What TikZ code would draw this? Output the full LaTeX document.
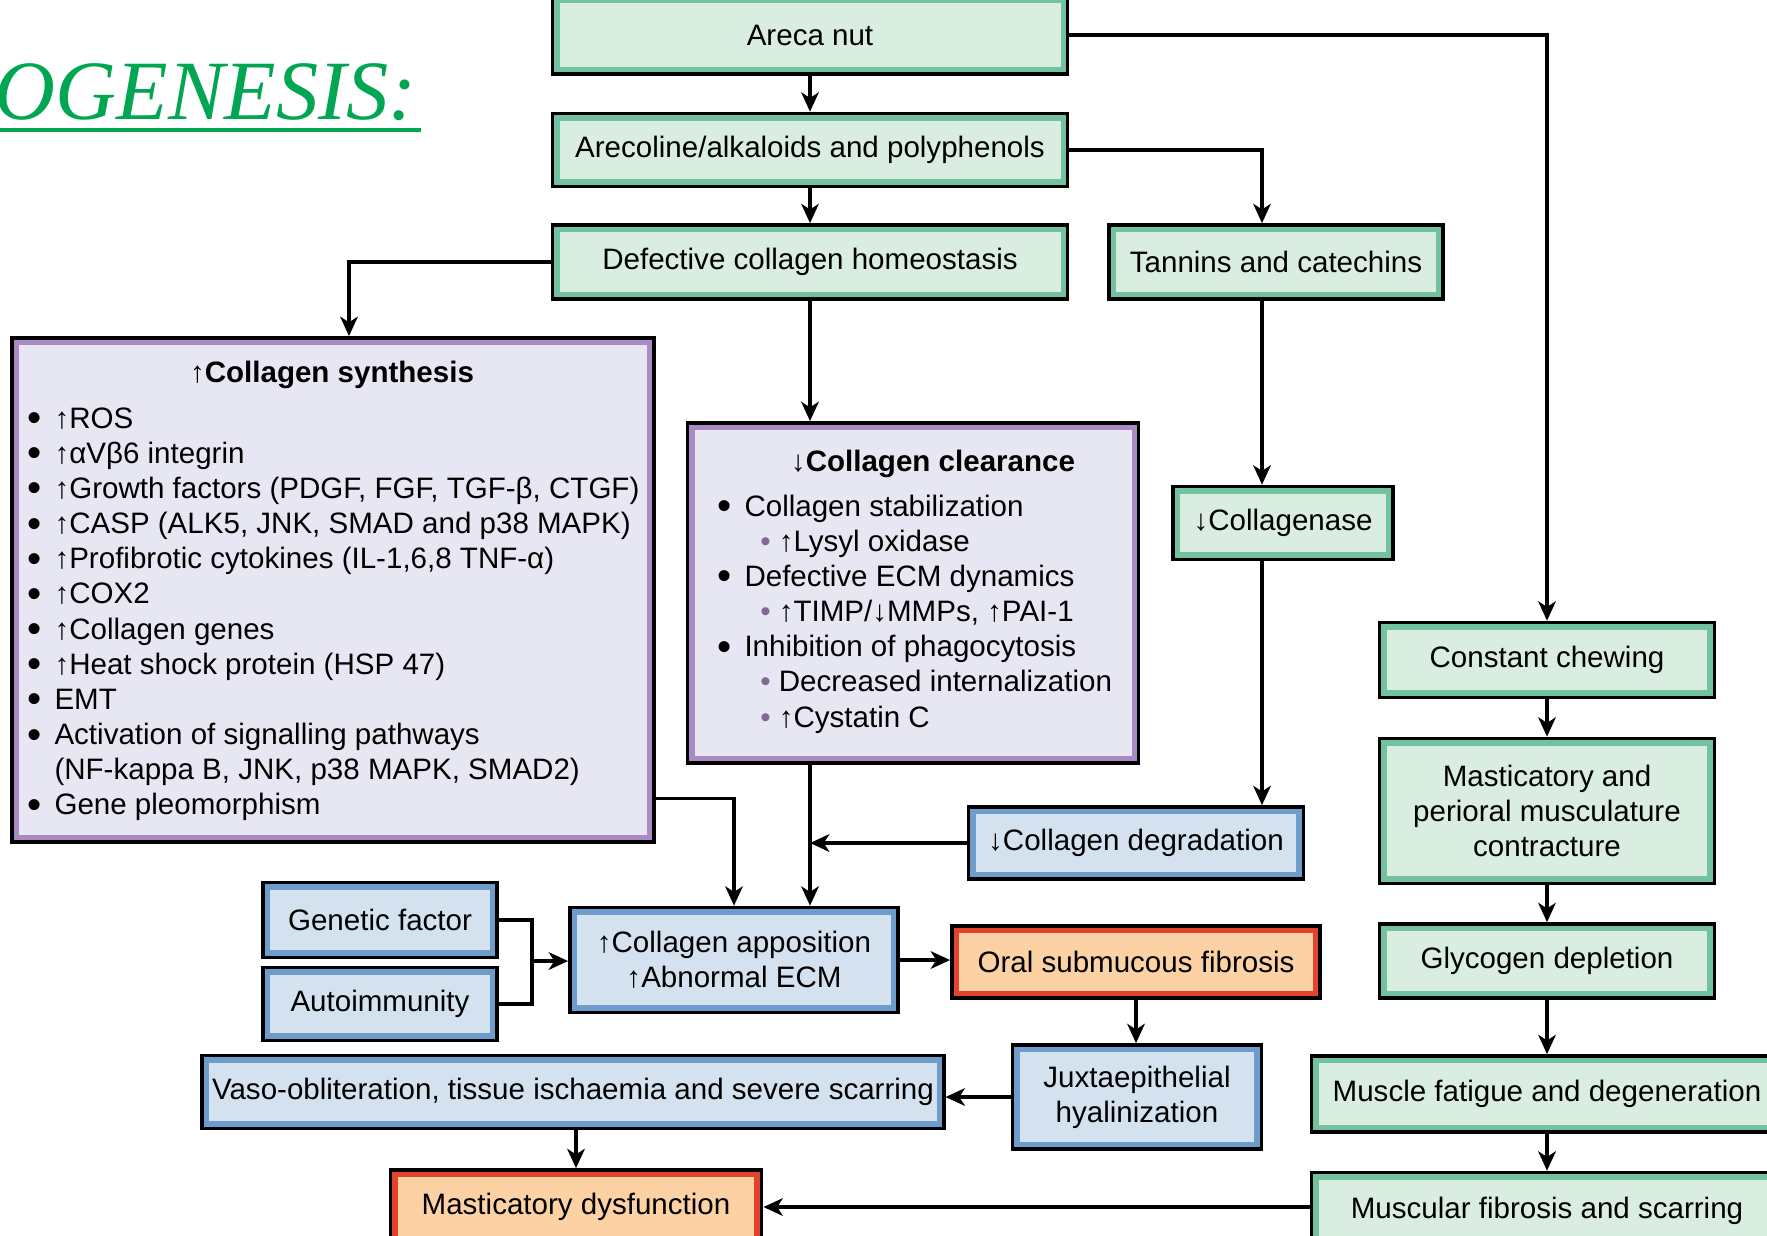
\documentclass[tikz,border=0pt]{standalone}
\usepackage{fontspec}
\setmainfont{Liberation Sans}
\newfontfamily\titlefont{Liberation Serif}
\usetikzlibrary{arrows.meta}

\definecolor{gfill}{HTML}{D9EEE1}
\definecolor{gband}{HTML}{72C2A2}
\definecolor{pfill}{HTML}{E6E7F2}
\definecolor{pband}{HTML}{A98AC3}
\definecolor{bfill}{HTML}{D4E2F0}
\definecolor{bband}{HTML}{6E9DCB}
\definecolor{ofill}{HTML}{FCD1A3}
\definecolor{oband}{HTML}{E2432B}
\definecolor{titlegreen}{HTML}{00A651}
\definecolor{subdot}{HTML}{7D6C8E}

\newcommand{\up}{↑}
\newcommand{\dn}{↓}
\newcommand{\bul}{\raisebox{-1pt}{\fontsize{11.5}{10}\selectfont\textbullet}}
\newcommand{\subpt}{\hspace{4.5pt}\textcolor{subdot}{\textbullet}\hspace{2.3pt}}

\tikzset{
  box/.style={rectangle, inner sep=0pt, outer sep=1.8pt, line width=1.5pt,
    preaction={draw=black, line width=3.6pt}, align=center,
    font=\fontsize{8.4}{10}\selectfont},
  gbox/.style={box, draw=gband, fill=gfill},
  pbox/.style={box, draw=pband, fill=pfill},
  bbox/.style={box, draw=bband, fill=bfill},
  obox/.style={box, draw=oband, fill=ofill},
  txt/.style={inner sep=0pt, font=\fontsize{8.4}{10}\selectfont},
  arr/.style={-{Stealth[length=5.5pt,width=5pt,inset=1.6pt]}, line width=0.9pt}
}

\begin{document}
\begin{tikzpicture}[x=0.01cm, y=-0.01cm]

        \path[fill=white, use as bounding box] (0,0) rectangle (1767,1235);

        \node (t) [anchor=base west, inner sep=0pt, text=titlegreen,
          font=\titlefont\itshape\fontsize{24}{28}\selectfont] at (-6,119) {OGENESIS:};
        \draw[titlegreen, line width=0.9pt] ([yshift=-3.1pt]t.base west) -- ([yshift=-3.1pt,xshift=1pt]t.base east);

        \coordinate (c1) at (1262,0);
        \coordinate (c2) at (532,961);

        \begin{scope}[every node/.style={gbox}]
          \node (1)  [minimum width=5.06cm, minimum height=0.69cm] at (810,35)  {Areca nut};
          \node (2)  [minimum width=5.06cm, minimum height=0.64cm] at (810,150) {Arecoline/alkaloids and polyphenols};
          \node (3)  [minimum width=5.06cm, minimum height=0.65cm] at (810,262) {Defective collagen homeostasis};
          \node (4)  [minimum width=3.25cm, minimum height=0.65cm] at (1276,262) {Tannins and catechins};
          \node (7)  [minimum width=2.11cm, minimum height=0.64cm] at (1283,523) {\dn Collagenase};
          \node (16) [minimum width=3.26cm, minimum height=0.66cm] at (1547,660) {Constant chewing};
          \node (17) [minimum width=3.26cm, minimum height=1.36cm] at (1547,811) {Masticatory and\\perioral musculature\\contracture};
          \node (18) [minimum width=3.26cm, minimum height=0.65cm] at (1547,961) {Glycogen depletion};
          \node (19) [minimum width=4.62cm, minimum height=0.67cm] at (1547,1094) {Muscle fatigue and degeneration};
          \node (20) [minimum width=4.62cm, minimum height=0.68cm] at (1547,1211) {Muscular fibrosis and scarring};
        \end{scope}

        \begin{scope}[every node/.style={pbox}]
          \node (5) [minimum width=6.33cm, minimum height=4.95cm] at (333,590) {};
          \node (6) [minimum width=4.42cm, minimum height=3.31cm] at (913,593) {};
        \end{scope}

        \begin{scope}[every node/.style={bbox}]
          \node (8)  [minimum width=3.26cm, minimum height=0.63cm] at (1136,843) {\dn Collagen degradation};
          \node (9)  [minimum width=2.25cm, minimum height=0.66cm] at (380,920)  {Genetic factor};
          \node (10) [minimum width=2.25cm, minimum height=0.64cm] at (380,1004) {Autoimmunity};
          \node (11) [minimum width=3.19cm, minimum height=0.96cm] at (734,960)  {\up Collagen apposition\\\up Abnormal ECM};
          \node (13) [minimum width=2.40cm, minimum height=0.95cm] at (1137,1097) {Juxtaepithelial\\hyalinization};
          \node (14) [minimum width=7.32cm, minimum height=0.64cm] at (573,1092) {Vaso-obliteration, tissue ischaemia and severe scarring};
        \end{scope}

        \begin{scope}[every node/.style={obox}]
          \node (12) [minimum width=3.59cm, minimum height=0.63cm] at (1136,962)  {Oral submucous fibrosis};
          \node (15) [minimum width=3.62cm, minimum height=0.65cm] at (576,1207)  {Masticatory dysfunction};
        \end{scope}

        \node (5h) [txt, font=\fontsize{8.4}{10}\selectfont\bfseries] at (332,375) {\up Collagen synthesis};
        \node (5l) [txt, anchor=base west] at (27,428) {%
          \begin{tabular}[t]{@{}l@{\hspace{3.6pt}}l@{}}
            \bul & \up ROS\\
            \bul & \up αVβ6 integrin\\
            \bul & \up Growth factors (PDGF, FGF, TGF-β, CTGF)\\
            \bul & \up CASP (ALK5, JNK, SMAD and p38 MAPK)\\
            \bul & \up Profibrotic cytokines (IL-1,6,8 TNF-α)\\
            \bul & \up COX2\\
            \bul & \up Collagen genes\\
            \bul & \up Heat shock protein (HSP 47)\\
            \bul & EMT\\
            \bul & Activation of signalling pathways\\
                 & (NF-kappa B, JNK, p38 MAPK, SMAD2)\\
            \bul & Gene pleomorphism
          \end{tabular}};

        \node (6h) [txt, font=\fontsize{8.4}{10}\selectfont\bfseries] at (933,464) {\dn Collagen clearance};
        \node (6l) [txt, anchor=base west] at (717,516) {%
          \begin{tabular}[t]{@{}l@{\hspace{3.6pt}}l@{}}
            \bul & Collagen stabilization\\
                 & \subpt\up Lysyl oxidase\\
            \bul & Defective ECM dynamics\\
                 & \subpt\up TIMP/\dn MMPs, \up PAI-1\\
            \bul & Inhibition of phagocytosis\\
                 & \subpt Decreased internalization\\
                 & \subpt\up Cystatin C
          \end{tabular}};

        \begin{scope}[every edge/.style={draw, arr}]
          \path (1)  edge (2);
          \path (2)  edge (3);
          \path (3.south) edge (3.south |- 6.north);
          \path (4.south -| c1) edge (7.north -| c1);
          \path (7.south -| c1) edge (8.north -| c1);
          \path (8.west) edge (8.west -| 3.south);
          \path (6.south -| 3.south) edge (11.north -| 3.south);
          \path (c2) edge (c2 -| 11.west);
          \path (11.east) edge (11.east -| 12.west);
          \path (12.south) edge (12.south |- 13.north);
          \path (13.west) edge (13.west -| 14.east);
          \path (14.south -| 15.north) edge (15.north);
          \path ([yshift=0.04cm]20.west) edge ([yshift=0.04cm]20.west -| 15.east);
          \path (16) edge (17);
          \path (17) edge (18);
          \path (18) edge (19);
          \path (19) edge (20);
        \end{scope}

        \draw[arr] (1.east) -| (16.north);
        \draw[arr] (2.east) -| (4.north -| c1);
        \draw[arr] (3.west) -| ([xshift=0.16cm]5.north);
        \draw[arr] ([yshift=-2.08cm]5.east) -| (11.north);
        \draw[line width=0.9pt] (9.east) -| (c2) |- (10.east);

      \end{tikzpicture}
\end{document}
